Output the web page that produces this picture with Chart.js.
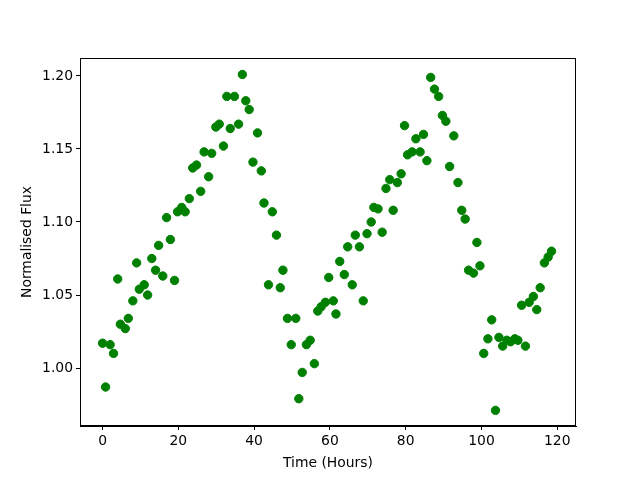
<!DOCTYPE html>
<html>
<head>
<meta charset="utf-8">
<script src="https://cdn.jsdelivr.net/npm/chart.js@4/dist/chart.umd.min.js"></script>
<style>
    body { margin: 0; background: #ffffff; }
    #grafico { display: block; }
</style>
</head>
<body>
<canvas id="grafico" width="640" height="480"></canvas>
<script>
// Datos
const tiempo = [
    0.0, 0.8, 2.0, 2.9, 4.0, 4.7, 6.0, 6.8, 8.0, 9.0, 9.7, 11.0, 11.9, 13.0, 14.0, 14.8,
    15.9, 16.9, 17.9, 19.0, 19.8, 20.9, 21.8, 22.9, 23.8, 24.8, 25.9, 26.8, 28.0, 28.8,
    29.9, 30.8, 31.9, 32.8, 33.7, 34.8, 35.9, 36.9, 37.8, 38.7, 39.7, 40.9, 41.9, 42.6,
    43.8, 44.8, 45.9, 46.9, 47.6, 48.8, 49.8, 51.0, 51.8, 52.7, 53.8, 54.8, 55.9, 56.8,
    57.7, 58.8, 59.7, 60.9, 61.6, 62.6, 63.8, 64.7, 65.9, 66.7, 67.8, 68.8, 69.8, 70.9,
    71.6, 72.7, 73.8, 74.8, 75.8, 76.7, 77.8, 78.8, 79.7, 80.5, 81.7, 82.7, 83.8, 84.7,
    85.6, 86.6, 87.6, 88.7, 89.7, 90.6, 91.6, 92.7, 93.8, 94.8, 95.7, 96.6, 97.9, 98.8,
    99.6, 100.6, 101.7, 102.7, 103.7, 104.6, 105.6, 106.7, 107.7, 108.8, 109.6, 110.6,
    111.6, 112.6, 113.7, 114.6, 115.5, 116.6, 117.6, 118.5
];
const flujo = [
    1.017, 0.987, 1.016, 1.010, 1.061, 1.030, 1.027, 1.034, 1.046, 1.072, 1.054, 1.057, 1.050, 1.075, 1.067, 1.084,
    1.063, 1.103, 1.088, 1.060, 1.107, 1.110, 1.107, 1.116, 1.137, 1.139, 1.121, 1.148, 1.131, 1.147,
    1.165, 1.167, 1.152, 1.186, 1.164, 1.186, 1.167, 1.201, 1.183, 1.177, 1.141, 1.161, 1.135, 1.113,
    1.057, 1.107, 1.091, 1.055, 1.067, 1.034, 1.016, 1.034, 0.979, 0.997, 1.016, 1.019, 1.003, 1.039,
    1.042, 1.045, 1.062, 1.046, 1.037, 1.073, 1.064, 1.083, 1.057, 1.091, 1.083, 1.046, 1.092, 1.100,
    1.110, 1.109, 1.093, 1.123, 1.129, 1.108, 1.127, 1.133, 1.166, 1.146, 1.148, 1.157, 1.148, 1.160,
    1.142, 1.199, 1.191, 1.186, 1.173, 1.169, 1.138, 1.159, 1.127, 1.108, 1.102, 1.067, 1.065, 1.086,
    1.070, 1.010, 1.020, 1.033, 0.971, 1.021, 1.015, 1.019, 1.018, 1.020, 1.019, 1.043,
    1.015, 1.045, 1.049, 1.040, 1.055, 1.072, 1.076, 1.080
];
const ticksX = [0, 20, 40, 60, 80, 100, 120];
const ticksY = [1.00, 1.05, 1.10, 1.15, 1.20];

const puntos = tiempo.map((t, i) => ({ x: t, y: flujo[i] }));

// marco negro alrededor del area del grafico
const marco = {
    id: 'marco',
    afterDraw(chart) {
        const { ctx, chartArea } = chart;
        ctx.save();
        ctx.strokeStyle = '#000000';
        ctx.lineWidth = 1;
        ctx.strokeRect(chartArea.left + 0.5, chartArea.top + 0.5,
            chartArea.right - chartArea.left - 1, chartArea.bottom - chartArea.top - 1);
        ctx.restore();
    }
};

const fuente = { family: 'DejaVu Sans', size: 13.9 };

const ctx = document.getElementById('grafico').getContext('2d');
new Chart(ctx, {
    type: 'scatter',
    data: {
        datasets: [{
            data: puntos,
            backgroundColor: '#008000',
            borderColor: '#008000',
            borderWidth: 1,
            pointRadius: 4.2,
            pointHoverRadius: 4.2
        }]
    },
    options: {
        responsive: false,
        animation: false,
        layout: { padding: { top: 58, right: 64, left: 0, bottom: 0 } },
        plugins: { legend: { display: false }, tooltip: { enabled: false } },
        scales: {
            x: {
                type: 'linear',
                min: -5.95,
                max: 124.95,
                afterBuildTicks: s => { s.ticks = ticksX.map(v => ({ value: v })); },
                afterFit: s => { s.height = 54; },
                grid: { drawOnChartArea: false, drawTicks: true, tickLength: 4, color: '#000000' },
                border: { display: true, color: '#000000' },
                ticks: { color: '#000000', font: fuente, padding: 3, maxRotation: 0,
                    callback: v => String(v) },
                title: { display: true, text: 'Time (Hours)', color: '#000000', font: fuente,
                    padding: { top: 0, bottom: 8.6 } }
            },
            y: {
                type: 'linear',
                min: 0.9603,
                max: 1.2123,
                afterBuildTicks: s => { s.ticks = ticksY.map(v => ({ value: v })); },
                afterFit: s => { s.width = 80; },
                grid: { drawOnChartArea: false, drawTicks: true, tickLength: 4, color: '#000000' },
                border: { display: true, color: '#000000' },
                ticks: { color: '#000000', font: fuente, padding: 3,
                    callback: v => v.toFixed(2) },
                title: { display: true, text: 'Normalised Flux', color: '#000000', font: fuente,
                    padding: { top: 18.6, bottom: 0 } }
            }
        }
    },
    plugins: [marco]
});
</script>
</body>
</html>
